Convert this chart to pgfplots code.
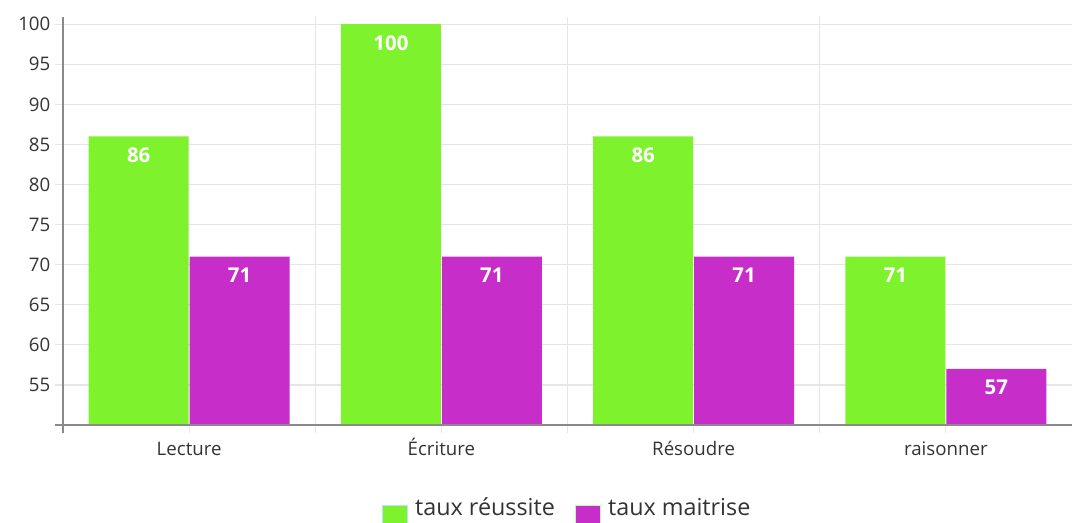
\documentclass[border=0pt]{standalone}
\usepackage{pgfplots}
\pgfplotsset{compat=1.18}
\usepackage{fontspec}
\setmainfont{Open Sans}
\definecolor{cgreen}{HTML}{7FF22E}
\definecolor{cpurple}{HTML}{C62DC9}
\definecolor{gridc}{HTML}{E6E6E6}
\definecolor{axisc}{HTML}{8A8A8A}
\definecolor{txt}{HTML}{333333}
\begin{document}
\begin{tikzpicture}
\begin{axis}[
 scale only axis, width=756.75pt, height=306pt,
 xmin=-0.5, xmax=3.5, ymin=50, ymax=100.9,
 enlargelimits=false, clip=false,
 ybar, bar width=0.396,
 axis x line*=bottom, axis y line*=left,
 axis line style={draw=axisc, line width=0.9pt, -},
 /pgf/number format/assume math mode=true,
 ytick={55,60,...,100},
 ymajorgrids, major grid style={draw=gridc, line width=0.9pt},
 ytick style={draw=gridc, line width=0.9pt},
 tick align=outside, major tick length=6pt,
 xtick={0.5,1.5,2.5}, xticklabels={}, xmajorgrids,
 xtick style={draw=gridc, line width=0.9pt},
 extra x ticks={0,1,2,3},
 extra x tick labels={Lecture,Écriture,Résoudre,raisonner},
 extra x tick style={grid=none, tick style={draw=none},
   tick label style={text height=13.5pt}},
 tick label style={font=\fontsize{14}{14}\selectfont, text=txt},
 nodes near coords, point meta=y,
 every node near coord/.append style={font=\bfseries\fontsize{15.3}{15}\selectfont, text=white, anchor=center, yshift=-13.9pt},
 legend columns=2,
 legend style={at={(0.5,0)}, anchor=center, yshift=-66pt, draw=none, fill=none,
   font=\fontsize{17.5}{17.5}\selectfont, text=txt,
   /tikz/every odd column/.append style={column sep=3pt},
   /tikz/every even column/.append style={column sep=13pt}},
 legend cell align=left,
]
\addplot[bar shift=-0.2, fill=cgreen, draw=none,
  legend image code/.code={\draw[fill=cgreen, draw=cyan!30, line width=0.9pt] (0pt,-17pt) rectangle (19pt,1.5pt);}]
  coordinates {(0,86) (1,100) (2,86) (3,71)};
\addlegendentry{taux réussite}
\addplot[bar shift=0.2, fill=cpurple, draw=none,
  legend image code/.code={\draw[fill=cpurple, draw=green!30, line width=0.9pt] (0pt,-17pt) rectangle (19pt,1.5pt);}]
  coordinates {(0,71) (1,71) (2,71) (3,57)};
\addlegendentry{taux maitrise}
\end{axis}
\draw[axisc, line width=0.9pt] (current axis.south west) ++(0,-6pt) -- (current axis.north west);
\draw[axisc, line width=0.9pt] (current axis.south west) ++(-6pt,0) -- (current axis.south east);
\pgfresetboundingbox
\path[use as bounding box] (current axis.south west) ++(-47.25pt,-72.75pt) rectangle ++(804pt,391.5pt);
\end{tikzpicture}
\end{document}
